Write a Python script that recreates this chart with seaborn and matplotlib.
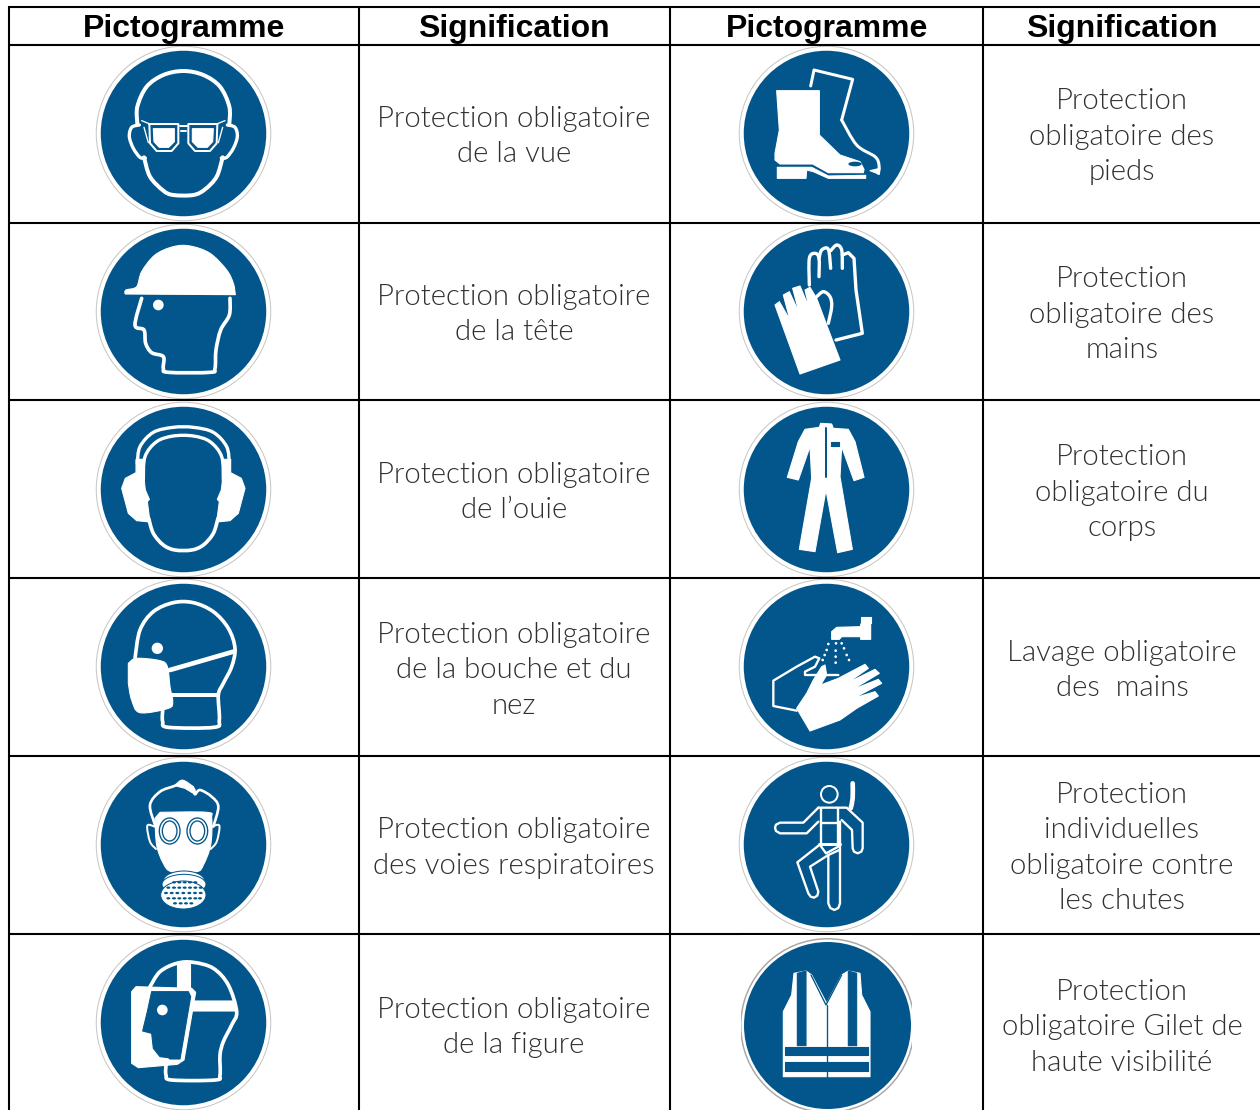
import numpy as np
import pandas as pd
import seaborn as sns
import matplotlib
matplotlib.use("Agg")
import matplotlib.pyplot as plt
from matplotlib import font_manager
from matplotlib.patches import Circle, Ellipse, PathPatch, Rectangle
from matplotlib.path import Path

# contenu du tableau
headers = ["Pictogramme", "Signification", "Pictogramme", "Signification"]
meanings_left = [
    "Protection obligatoire\nde la vue",
    "Protection obligatoire\nde la tête",
    "Protection obligatoire\nde l’ouie",
    "Protection obligatoire\nde la bouche et du\nnez",
    "Protection obligatoire\ndes voies respiratoires",
    "Protection obligatoire\nde la figure",
]
meanings_right = [
    "Protection\nobligatoire des\npieds",
    "Protection\nobligatoire des\nmains",
    "Protection\nobligatoire du\ncorps",
    "Lavage obligatoire\ndes  mains",
    "Protection\nindividuelles\nobligatoire contre\nles chutes",
    "Protection\nobligatoire Gilet de\nhaute visibilité",
]
col_edges = [9, 359, 670, 983]
row_edges = [7, 45, 222.5, 400, 578, 756, 934]
row_text_y = [136.5, 314.5, 492.5, 670.5, 848, 1027.5]
header_x = [184, 514, 827, 1122]
text_x = [514, 1122]
icon_x = [183.3, 826]
icon_y = [133, 311, 488.5, 665.5, 844, 1022]

BLUE = "#02568B"
GREY = "#c6c6c6"

sns.set_theme(style="white")
fig = plt.figure(figsize=(12.6, 11.1), dpi=100)
ax = fig.add_axes([0, 0, 1, 1])

light_files = [f.fname for f in font_manager.fontManager.ttflist if "Lato-Light." in f.fname]
if light_files:
    body_font = font_manager.FontProperties(fname=light_files[0], size=21.2)
else:
    body_font = font_manager.FontProperties(family="Lato", weight="light", size=21.2)


def ctrl(pts, closed):
    pts = np.array(pts, dtype=float)
    n = len(pts)
    verts, codes = [pts[0]], [Path.MOVETO]
    for i in range(n if closed else n - 1):
        if closed:
            p0, p1, p2, p3 = pts[(i - 1) % n], pts[i], pts[(i + 1) % n], pts[(i + 2) % n]
        else:
            p0, p1, p2, p3 = pts[max(i - 1, 0)], pts[i], pts[i + 1], pts[min(i + 2, n - 1)]
        verts += [p1 + (p2 - p0) / 6, p2 - (p3 - p1) / 6, p2]
        codes += [Path.CURVE4] * 3
    return verts, codes


def to_px(o, pts):
    return [(o[0] + x / 3, o[1] + y / 3) for x, y in pts]


def stroke(o, pts, w=12, smooth=True, color="white", closed=False):
    pts = to_px(o, pts)
    if smooth:
        v, c = ctrl(pts, closed)
    else:
        v = pts + ([pts[0]] if closed else [])
        c = [Path.MOVETO] + [Path.LINETO] * (len(v) - 1)
    ax.add_patch(PathPatch(Path(v, c), fc="none", ec=color, lw=w / 3 * 0.72,
                           capstyle="round", joinstyle="round", zorder=5))


def fill(o, pts, smooth=False, color="white", z=5):
    pts = to_px(o, pts)
    if smooth:
        v, c = ctrl(pts, False)
        v = v + [pts[0]]
        c = c + [Path.LINETO]
    else:
        v = pts + [pts[0]]
        c = [Path.MOVETO] + [Path.LINETO] * (len(pts) - 1) + [Path.CLOSEPOLY]
    ax.add_patch(PathPatch(Path(v, c), fc=color, ec=color, lw=0.8, joinstyle="round", zorder=z))


def dot(o, x, y, r, color="white", z=6):
    ax.add_patch(Circle((o[0] + x / 3, o[1] + y / 3), r / 3, fc=color, ec="none", zorder=z))


def oval(o, x, y, rx, ry, fc="white", ec="none", w=0, z=6):
    ax.add_patch(Ellipse((o[0] + x / 3, o[1] + y / 3), 2 * rx / 3, 2 * ry / 3, fc=fc, ec=ec,
                         lw=w / 3 * 0.72, zorder=z))


def icon_goggles(o):
    stroke(o, [(412, 372), (412, 320), (440, 260), (490, 225), (550, 213), (610, 225), (660, 260), (688, 320), (688, 372)])
    stroke(o, [(432, 472), (450, 530), (490, 572), (520, 585), (580, 585), (615, 568), (650, 530), (668, 472)])
    for s in (1, -1):
        mx = (lambda x: x) if s == 1 else (lambda x: 1100 - x)
        stroke(o, [(mx(418), 375), (mx(395), 382), (mx(388), 410), (mx(400), 445), (mx(420), 472), (mx(436), 474)], w=10)
        stroke(o, [(mx(448), 372), (mx(535), 372), (mx(535), 430), (mx(515), 453), (mx(470), 453), (mx(450), 430)], w=6, smooth=False, closed=True)
        fill(o, [(mx(460), 386), (mx(523), 386), (mx(523), 425), (mx(506), 442), (mx(478), 442), (mx(462), 425)])
        stroke(o, [(mx(425), 362), (mx(450), 372)], w=4)
        stroke(o, [(mx(432), 382), (mx(445), 428)], w=4, smooth=False)
    stroke(o, [(540, 378), (560, 378)], w=6, smooth=False)
    stroke(o, [(542, 394), (558, 394)], w=6, smooth=False)


def icon_helmet(o):
    fill(o, [(375, 882), (378, 870), (410, 860), (425, 815), (465, 765), (520, 740), (570, 738), (630, 760), (680, 810), (700, 850), (706, 884)], smooth=True)
    stroke(o, [(425, 895), (405, 975), (432, 990), (437, 1030), (455, 1058), (490, 1070), (490, 1105), (505, 1117), (630, 1117), (645, 1105), (648, 1050), (662, 990), (688, 945), (690, 895)], w=11)
    dot(o, 475, 915, 16)


def icon_ear(o):
    stroke(o, [(232, 190), (240, 140), (280, 97), (340, 82), (400, 82), (460, 97), (500, 140), (508, 190)], w=10)
    stroke(o, [(250, 240), (255, 170), (290, 125), (340, 108), (400, 108), (450, 125), (485, 170), (490, 240)], w=10)
    stroke(o, [(266, 355), (280, 400), (310, 435), (345, 450), (395, 450), (430, 435), (460, 400), (474, 355)], w=11)
    for mx in ((lambda x: x), (lambda x: 740 - x)):
        fill(o, [(mx(228), 178), (mx(228), 218), (mx(196), 235), (mx(185), 265), (mx(205), 340), (mx(230), 362),
                 (mx(270), 366), (mx(262), 305), (mx(268), 298), (mx(256), 270), (mx(250), 218), (mx(250), 178)])


def icon_mask(o):
    stroke(o, [(225, 775), (240, 690), (280, 635), (340, 608), (400, 608), (460, 635), (505, 685), (525, 745), (515, 800), (490, 850), (475, 885), (478, 960), (462, 982), (325, 982), (308, 965), (308, 930)], w=11)
    stroke(o, [(330, 810), (520, 755)], w=14, smooth=False)
    stroke(o, [(335, 885), (475, 885)], w=12, smooth=False)
    fill(o, [(205, 790), (230, 775), (300, 782), (322, 800), (330, 860), (338, 905), (325, 925), (240, 938), (215, 900), (205, 850)], smooth=True)
    dot(o, 292, 745, 17)


def icon_gas(o):
    stroke(o, [(285, 210), (270, 150), (300, 110), (345, 92), (368, 78), (400, 100), (405, 118), (420, 105), (455, 125), (475, 155), (460, 215)], w=8)
    fill(o, [(345, 92), (368, 76), (400, 95), (405, 118), (375, 100)])
    fill(o, [(300, 172), (440, 172), (455, 190), (452, 270), (430, 330), (410, 350), (335, 350), (310, 325), (290, 270), (285, 190)], smooth=True)
    for mx in ((lambda x: x), (lambda x: 740 - x)):
        stroke(o, [(mx(285), 215), (mx(262), 212), (mx(270), 260), (mx(288), 282)], w=6)
    for ex in (329, 412):
        oval(o, ex, 228, 31, 39, fc="white", ec=BLUE, w=4)
        oval(o, ex, 228, 22, 30, fc="white", ec=BLUE, w=4)
    oval(o, 372, 378, 62, 30, fc="white", ec=BLUE, w=3, z=6)
    oval(o, 372, 388, 66, 30, fc="white", ec=BLUE, w=3, z=6)
    oval(o, 370, 420, 68, 42, fc="white", ec=BLUE, w=3, z=6)
    rows = [(382, (342, 358, 374, 390, 406)), (398, (325, 342, 358, 374, 390, 406, 422)),
            (414, (318, 335, 352, 370, 388, 405, 422)), (430, (325, 342, 358, 374, 390, 406, 420)),
            (445, (345, 362, 378, 394))]
    for y, xs in rows:
        for x in xs:
            oval(o, x, y, 6, 3.5, fc=BLUE, z=7)


def icon_shield(o):
    stroke(o, [(270, 695), (300, 650), (350, 625), (400, 622), (460, 640), (505, 690), (530, 770), (515, 810), (490, 860), (480, 900), (480, 960), (465, 975), (335, 975), (318, 960), (318, 930)], w=11)
    fill(o, [(350, 625), (390, 625), (390, 705), (350, 705)])
    fill(o, [(392, 738), (522, 738), (526, 768), (392, 768)])
    fill(o, [(215, 710), (228, 695), (395, 700), (407, 712), (372, 915), (352, 928), (235, 938), (215, 925)])
    fill(o, [(275, 710), (385, 710), (392, 725), (360, 912), (330, 912), (325, 908), (300, 905), (280, 880), (275, 835), (248, 828), (262, 770)], color=BLUE, z=6)
    dot(o, 307, 765, 16, z=7)


def icon_boots(o):
    stroke(o, [(332, 138), (342, 90), (458, 118), (425, 240)], smooth=False, w=9)
    stroke(o, [(425, 240), (470, 315), (525, 350), (537, 375), (535, 400)], w=9)
    fill(o, [(510, 392), (540, 385), (538, 403)])
    fill(o, [(230, 152), (358, 152), (358, 285), (420, 345), (480, 365), (492, 388), (490, 398), (385, 398), (338, 372), (240, 372), (225, 360), (225, 340), (238, 270)])
    fill(o, [(232, 382), (335, 382), (385, 408), (497, 406), (497, 415), (385, 415), (340, 395), (320, 390), (318, 415), (232, 415)])
    oval(o, 465, 372, 20, 7, fc=BLUE)


def icon_gloves(o):
    stroke(o, [(328, 735), (328, 655), (345, 640), (357, 655), (357, 710)], w=10)
    stroke(o, [(357, 655), (365, 630), (385, 628), (392, 685)], w=10)
    stroke(o, [(392, 632), (410, 615), (425, 630), (427, 685)], w=10)
    stroke(o, [(427, 645), (445, 638), (462, 655), (468, 750), (487, 880), (408, 900)], w=10, smooth=False)
    stroke(o, [(350, 770), (370, 755), (390, 770), (395, 800), (385, 850)], w=10)
    fill(o, [(225, 795), (238, 785), (270, 840), (250, 765), (268, 755), (298, 820), (278, 745), (300, 738), (328, 805), (315, 750), (330, 742), (350, 775), (380, 855), (420, 960), (300, 1002)])


def icon_suit(o):
    fill(o, [(362, 70), (395, 72), (400, 85), (445, 88), (465, 125), (492, 232), (462, 242), (425, 140), (420, 230), (457, 448), (413, 458), (378, 270), (345, 455), (298, 448), (335, 235), (330, 140), (295, 240), (262, 232), (295, 125), (315, 88), (358, 82)])
    stroke(o, [(378, 85), (378, 230)], w=6, smooth=False, color=BLUE)
    fill(o, [(393, 127), (417, 127), (417, 137), (393, 137)], color=BLUE, z=6)


def icon_wash(o):
    fill(o, [(482, 650), (512, 650), (512, 668), (482, 668)])
    fill(o, [(482, 672), (512, 672), (512, 718), (482, 718), (482, 710), (425, 710), (418, 718), (395, 718), (395, 695), (410, 682), (482, 680)])
    drops = [(385, 732), (408, 730), (425, 730), (380, 750), (407, 752), (432, 745), (374, 765), (407, 770), (440, 765), (368, 780), (407, 788), (447, 780)]
    for x, y in drops:
        dot(o, x, y, 4)
    stroke(o, [(290, 932), (220, 918), (220, 842), (290, 800), (345, 770), (358, 775), (345, 800), (315, 815), (315, 825), (350, 825), (415, 825)], w=7, smooth=False)
    fill(o, [(365, 800), (375, 795), (380, 825), (362, 855), (415, 835), (495, 793), (505, 805), (440, 850), (525, 808), (538, 820), (455, 870), (535, 838), (545, 850), (460, 895), (525, 875), (535, 888), (470, 925), (420, 960), (330, 993), (290, 925), (320, 880), (340, 840)])


def icon_harness(o):
    stroke(o, [(458, 85), (458, 130), (452, 160)], w=14)
    ax.add_patch(Circle((o[0] + 388 / 3, o[1] + 118 / 3), 25 / 3, fc="none", ec="white", lw=6 / 3 * 0.72, zorder=5))
    w = 7
    stroke(o, [(355, 158), (310, 203), (240, 203), (228, 209), (225, 218), (228, 228), (240, 235), (320, 235), (355, 200)], w=w, smooth=False)
    stroke(o, [(355, 158), (440, 158), (488, 203), (488, 280), (484, 290), (473, 295), (462, 290), (458, 280), (456, 225), (425, 195)], w=w, smooth=False)
    stroke(o, [(362, 158), (362, 270)], w=w, smooth=False)
    stroke(o, [(415, 158), (415, 270)], w=w, smooth=False)
    stroke(o, [(362, 205), (415, 205)], w=w, smooth=False)
    stroke(o, [(358, 268), (420, 268)], w=w + 2, smooth=False)
    stroke(o, [(420, 200), (420, 445), (415, 459), (403, 465), (391, 459), (385, 445), (385, 300), (418, 285)], w=w, smooth=False)
    stroke(o, [(358, 270), (292, 322), (325, 415), (332, 425), (342, 428), (352, 422), (355, 410), (330, 335), (385, 300)], w=w, smooth=False)
    stroke(o, [(360, 270), (378, 295), (415, 275)], w=w, smooth=False)


def icon_vest(o):
    fill(o, [(282, 655), (318, 648), (335, 660), (380, 745), (425, 660), (445, 648), (480, 655), (485, 720), (510, 770), (510, 965), (250, 965), (250, 770), (275, 720)])
    fill(o, [(292, 655), (318, 648), (318, 872), (292, 872)], color=BLUE, z=6)
    fill(o, [(445, 648), (470, 655), (470, 872), (445, 872)], color=BLUE, z=6)
    fill(o, [(256, 875), (505, 875), (505, 900), (256, 900)], color=BLUE, z=6)
    fill(o, [(256, 922), (505, 922), (505, 948), (256, 948)], color=BLUE, z=6)
    stroke(o, [(380, 750), (380, 965)], w=4, smooth=False, color=BLUE)
    stroke(o, [(333, 660), (378, 750), (425, 660)], w=4, smooth=False, color=BLUE)


# pastilles bleues
centers = pd.DataFrame({
    "x": [icon_x[0]] * 6 + [icon_x[1]] * 5,
    "y": icon_y + icon_y[:5],
})
vest_center = pd.DataFrame({"x": [826.7], "y": [1024.5]})
for diam, color in [(175.5, GREY), (173.5, "white"), (165.5, BLUE)]:
    sns.scatterplot(data=centers, x="x", y="y", s=(diam * 0.72) ** 2, color=color,
                    linewidth=0, legend=False, ax=ax, zorder=2)
for diam, color in [(175, "#a8a8a8"), (172, "white"), (167, BLUE)]:
    sns.scatterplot(data=vest_center, x="x", y="y", s=(diam * 0.72) ** 2, color=color,
                    linewidth=0, legend=False, ax=ax, zorder=2)

# le dernier pictogramme est une image coupée sur les côtés
ax.add_patch(Rectangle((725, 936), 16, 174, fc="white", ec="none", zorder=8))
ax.add_patch(Rectangle((912, 936), 16, 174, fc="white", ec="none", zorder=8))

# grille du tableau
ax.hlines(row_edges, 8, 1262, color="black", lw=1.5, zorder=9)
ax.vlines(col_edges, 6, 1112, color="black", lw=1.5, zorder=9)
ax.add_patch(Rectangle((741, 934.6), 171, 1.2, fc="white", ec="none", zorder=10))

icon_goggles((0, 0))
icon_helmet((0, 0))
icon_ear((60, 400))
icon_mask((60, 400))
icon_gas((60, 755))
icon_shield((60, 755))
icon_boots((700, 40))
icon_gloves((700, 40))
icon_suit((700, 400))
icon_wash((700, 400))
icon_harness((700, 755))
icon_vest((700, 755))

# textes
for x, h in zip(header_x, headers):
    ax.text(x, 29, h, ha="center", va="center", fontsize=23, fontweight="bold",
            family="Liberation Sans", color="black", zorder=11)
for x, col in zip(text_x, [meanings_left, meanings_right]):
    for y, label in zip(row_text_y, col):
        ax.text(x, y, label, ha="center", va="center", fontproperties=body_font,
                color="#303030", linespacing=1.44, zorder=11)

ax.set_xlim(0, 1260)
ax.set_ylim(1110, 0)
ax.axis("off")
fig.savefig("out.png", dpi=100, facecolor="white")
